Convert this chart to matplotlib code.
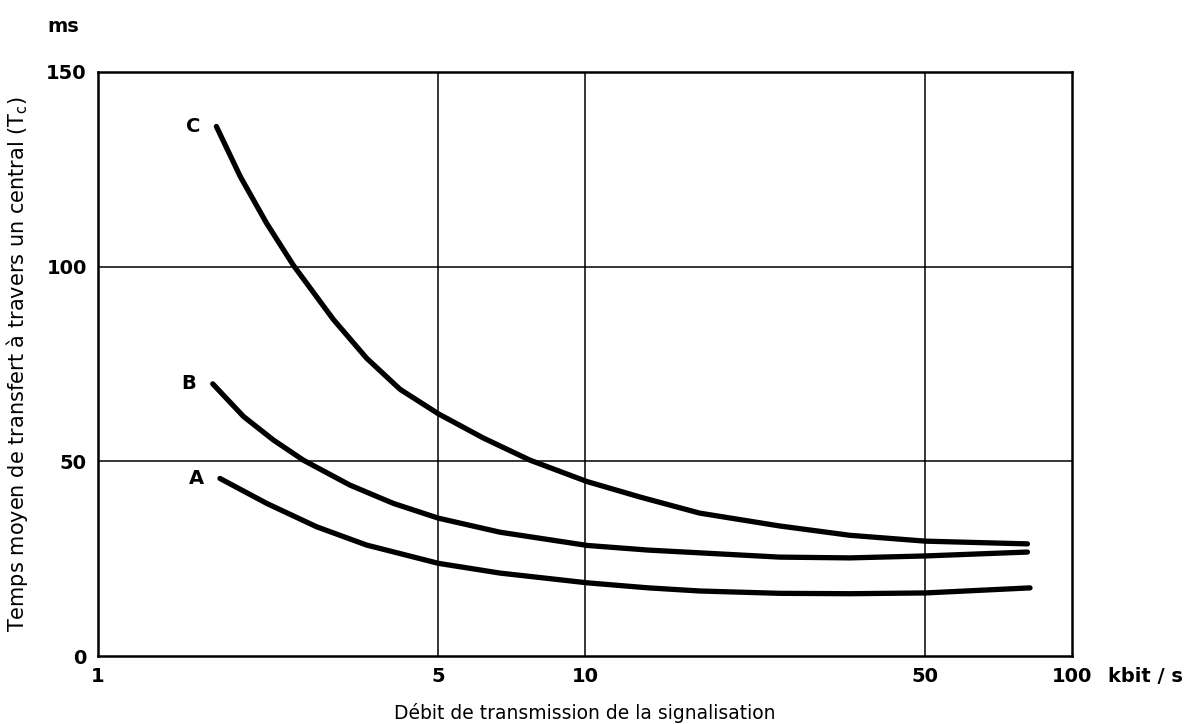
import matplotlib
matplotlib.use('Agg')
import matplotlib.pyplot as plt

# valeurs (debit en kbit/s, temps en ms)
x_c = [1.75, 1.96, 2.22, 2.52, 3.04, 3.56, 4.17, 5.0, 6.18, 7.71, 10.1,
       13.0, 17.2, 25.1, 35.0, 50, 81]
y_c = [136.0, 123.1, 111.1, 100.3, 86.5, 76.5, 68.5, 62.2, 56.0, 50.3, 44.8,
       40.8, 36.7, 33.4, 31.0, 29.5, 28.8]

x_b = [1.72, 1.99, 2.29, 2.64, 3.29, 4.04, 5.0, 6.69, 10.1, 13.5, 17.2,
       25.1, 35.0, 50, 81]
y_b = [69.9, 61.5, 55.5, 50.3, 43.9, 39.2, 35.4, 31.8, 28.4, 27.2, 26.5,
       25.4, 25.2, 25.7, 26.7]

x_a = [1.78, 2.22, 2.81, 3.56, 5.0, 6.69, 10.1, 13.5, 17.2, 25.1, 35.0,
       50, 82]
y_a = [45.6, 39.2, 33.2, 28.5, 23.8, 21.3, 18.8, 17.5, 16.7, 16.1, 16.0,
       16.2, 17.5]

curve_names = ['A', 'B', 'C']
x_ticks = [1, 5, 10, 50, 100]
y_ticks = [0, 50, 100, 150]

fig = plt.figure(figsize=(11.84, 7.24), dpi=100)
ax = fig.add_axes([0.0828, 0.0939, 0.8226, 0.8067])

for xs, ys, name in zip([x_a, x_b, x_c], [y_a, y_b, y_c], curve_names):
    ax.plot(xs, ys, color='black', lw=3.8, solid_capstyle='round',
            solid_joinstyle='round')
    ax.text(xs[0] / 1.08, ys[0], name, ha='right', va='center',
            fontsize=14, fontweight='bold')

ax.set_xscale('log')
ax.set_xlim(1, 100)
ax.set_ylim(0, 150)
ax.set_xticks(x_ticks)
ax.set_xticklabels([str(t) for t in x_ticks])
ax.minorticks_off()
ax.set_yticks(y_ticks)
ax.tick_params(length=0, labelsize=14, pad=8)
for lab in ax.get_xticklabels() + ax.get_yticklabels():
    lab.set_fontweight('bold')

for v in [5, 10, 50]:
    ax.axvline(v, color='black', lw=1.1, zorder=0)
for v in [50, 100]:
    ax.axhline(v, color='black', lw=1.1, zorder=0)

for sp in ax.spines.values():
    sp.set_linewidth(1.8)

ax.set_xlabel('Débit de transmission de la signalisation', fontsize=13.5,
              labelpad=12)
ax.set_ylabel('Temps moyen de transfert à travers un central (T$_\\mathregular{c}$)',
              fontsize=15, labelpad=12)

fig.text(47 / 1184, 1 - 26 / 724, 'ms', fontsize=14, fontweight='bold',
         ha='left', va='center')
fig.text(1108 / 1184, 1 - 676 / 724, 'kbit / s', fontsize=14,
         fontweight='bold', ha='left', va='center')

fig.savefig('out.png', dpi=100)
